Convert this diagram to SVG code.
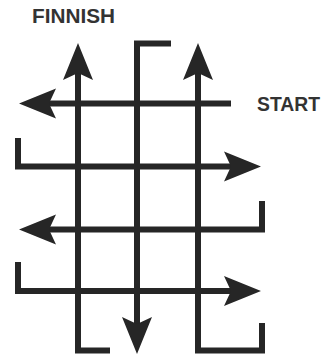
<svg xmlns="http://www.w3.org/2000/svg" xmlns:xlink="http://www.w3.org/1999/xlink" width="333" height="355" viewBox="0 0 333 355">
  <style>
    .ln { fill: none; stroke: #262626; stroke-width: 6; stroke-linejoin: miter; stroke-linecap: butt; }
    .hd { fill: #262626; }
    .lbl { font-family: "Liberation Sans", Arial, sans-serif; font-weight: bold; font-size: 20px; fill: #333; }
  </style>
  <defs>
    <path id="ah" class="hd" d="M0,0 L-37,-15 L-30,0 L-37,15 Z"/>
  </defs>
  <rect width="333" height="355" fill="#ffffff"/>
  <g id="labels">
    <g id="finish"><text class="lbl" x="32" y="23" textLength="83" lengthAdjust="spacingAndGlyphs">FINNISH</text></g>
    <g id="start"><text class="lbl" x="257" y="111" textLength="63" lengthAdjust="spacingAndGlyphs">START</text></g>
  </g>
  <g id="connectors">
    <g id="row1">
      <path class="ln" d="M231,103.5 H48"/>
      <use xlink:href="#ah" transform="translate(19,103.5) rotate(180)"/>
    </g>
    <g id="row2">
      <path class="ln" d="M18,138 V166.5 H232"/>
      <use xlink:href="#ah" transform="translate(261,166.5)"/>
    </g>
    <g id="row3">
      <path class="ln" d="M262,201 V229.5 H48"/>
      <use xlink:href="#ah" transform="translate(19,229.5) rotate(180)"/>
    </g>
    <g id="row4">
      <path class="ln" d="M18,262 V291 H232"/>
      <use xlink:href="#ah" transform="translate(261,291)"/>
    </g>
    <g id="col1">
      <path class="ln" d="M110,350.5 H78 V72"/>
      <use xlink:href="#ah" transform="translate(78,43) rotate(-90)"/>
    </g>
    <g id="col2">
      <path class="ln" d="M171,43.5 H137 V325"/>
      <use xlink:href="#ah" transform="translate(137,354) rotate(90)"/>
    </g>
    <g id="col3">
      <path class="ln" d="M262,323 V350.5 H198 V72"/>
      <use xlink:href="#ah" transform="translate(198,43) rotate(-90)"/>
    </g>
  </g>
</svg>
